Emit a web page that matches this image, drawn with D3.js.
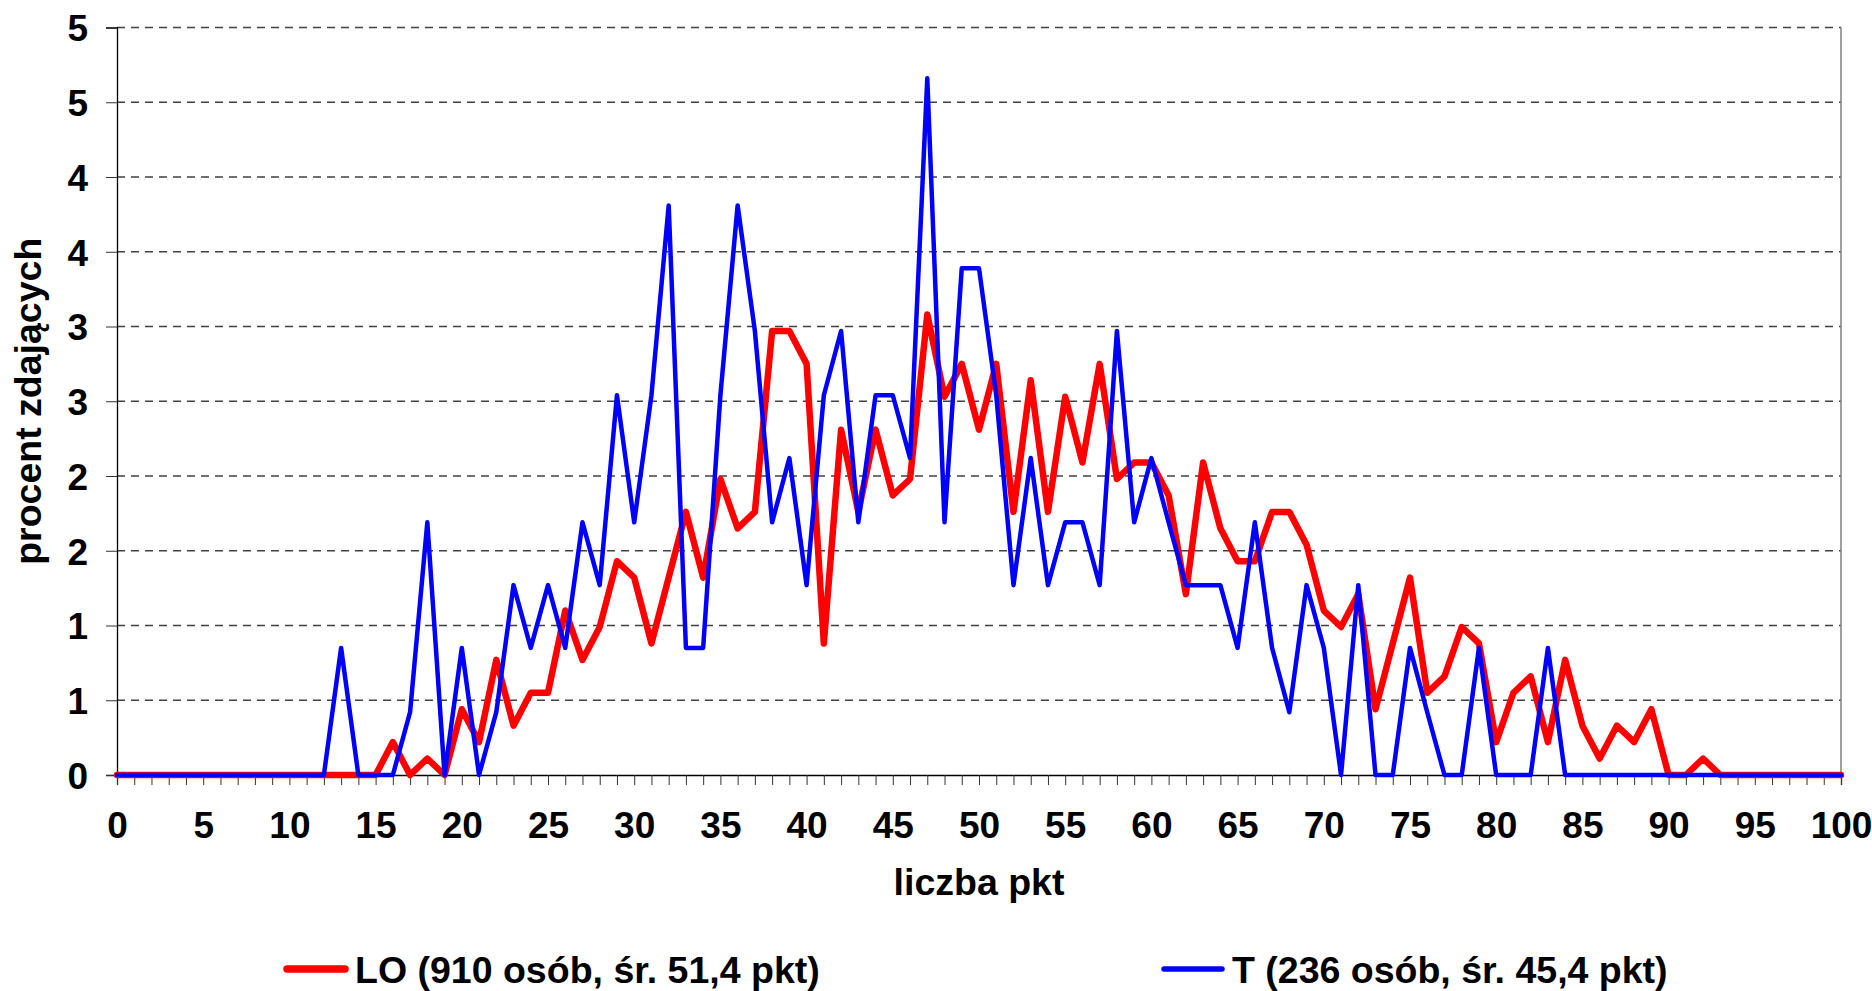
<!DOCTYPE html>
<html>
<head>
<meta charset="utf-8">
<script src="https://cdn.jsdelivr.net/npm/d3@7"></script>
<style>
  body { margin: 0; background: #fff; }
  text { font-family: "Liberation Sans", Arial, sans-serif; font-weight: bold; fill: #000; }
</style>
</head>
<body>
<svg id="chart" width="1872" height="991"></svg>
<script>
// points (liczba pkt), 0..100
var points = [0,1,2,3,4,5,6,7,8,9,10,11,12,13,14,15,16,17,18,19,20,
  21,22,23,24,25,26,27,28,29,30,31,32,33,34,35,36,37,38,39,40,
  41,42,43,44,45,46,47,48,49,50,51,52,53,54,55,56,57,58,59,60,
  61,62,63,64,65,66,67,68,69,70,71,72,73,74,75,76,77,78,79,80,
  81,82,83,84,85,86,87,88,89,90,91,92,93,94,95,96,97,98,99,100];

// percent of students, LO (910 osób)
var valuesLO = [0,0,0,0,0,0,0,0,0,0,0,0,0,0,0,0,
  0.22,0,0.11,0,0.44,0.22,0.77,0.33,0.55,0.55,
  1.10,0.77,0.99,1.43,1.32,0.88,1.32,1.76,1.32,1.98,
  1.65,1.76,2.97,2.97,2.75,0.88,2.31,1.76,2.31,1.87,
  1.98,3.08,2.53,2.75,2.31,2.75,1.76,2.64,1.76,2.53,
  2.09,2.75,1.98,2.09,2.09,1.87,1.21,2.09,1.65,1.43,
  1.43,1.76,1.76,1.54,1.10,0.99,1.21,0.44,0.88,1.32,
  0.55,0.66,0.99,0.88,0.22,0.55,0.66,0.22,0.77,0.33,
  0.11,0.33,0.22,0.44,0,0,0.11,
  0,0,0,0,0,0,0,0];

// percent of students, T (236 osób)
var valuesT = [0,0,0,0,0,0,0,0,0,0,0,0,0,
  0.85,0,0,0,0.42,1.69,0,0.85,0,0.42,
  1.27,0.85,1.27,0.85,1.69,1.27,2.54,1.69,2.54,3.81,
  0.85,0.85,2.54,3.81,2.97,1.69,2.12,1.27,2.54,2.97,
  1.69,2.54,2.54,2.12,4.66,1.69,3.39,3.39,2.54,1.27,
  2.12,1.27,1.69,1.69,1.27,2.97,1.69,2.12,1.69,1.27,
  1.27,1.27,0.85,1.69,0.85,0.42,1.27,0.85,0,1.27,
  0,0,0.85,0.42,0,0,0.85,0,0,0,0.85,
  0,0,0,0,0,0,0,0,0,0,0,0,0,0,0,0,0];

var yTicks = [0,0.5,1,1.5,2,2.5,3,3.5,4,4.5,5];
var xTickLabels = [0,5,10,15,20,25,30,35,40,45,50,55,60,65,70,75,80,85,90,95,100];

var series = [
  { name: "LO (910 osób, śr. 51,4 pkt)", values: valuesLO, color: "#ff0000", width: 6.5, legendX: 287 },
  { name: "T (236 osób, śr. 45,4 pkt)", values: valuesT, color: "#0000ff", width: 4.5, legendX: 1164 }
];

var svg = d3.select("#chart");
// plot area (note: "top" is a reserved window property, so use plotTop)
var plotLeft = 117, plotRight = 1841, plotTop = 27.5, plotBottom = 775;

var x = d3.scaleLinear().domain([0, 100]).range([plotLeft, plotRight]);
var y = d3.scaleLinear().domain([0, 5]).range([plotBottom, plotTop]);

// dashed gridlines
svg.append("g")
  .selectAll("line")
  .data(yTicks.filter(d => d > 0))
  .join("line")
  .attr("x1", plotLeft).attr("x2", plotRight)
  .attr("y1", d => y(d)).attr("y2", d => y(d))
  .attr("stroke", "#404040")
  .attr("stroke-width", 1.3)
  .attr("stroke-dasharray", "8,6");

// plot area border (right side, grey)
svg.append("line")
  .attr("x1", plotRight).attr("x2", plotRight)
  .attr("y1", plotTop).attr("y2", plotBottom)
  .attr("stroke", "#808080")
  .attr("stroke-width", 1.5);

// y axis
var yAxis = svg.append("g")
  .attr("transform", "translate(" + plotLeft + ",0)")
  .call(d3.axisLeft(y).tickValues(yTicks).tickSize(11).tickPadding(18)
    .tickFormat(d => Math.round(d)));
yAxis.select(".domain").attr("stroke", "#000").attr("stroke-width", 1.3);
yAxis.selectAll(".tick line").attr("stroke", "#333");
yAxis.selectAll(".tick text")
  .attr("font-size", 37)
  .attr("font-family", null)
  .attr("dy", "0.36em");

// x axis, tick every point, label every 5
var xAxis = svg.append("g")
  .attr("transform", "translate(0," + plotBottom + ")")
  .call(d3.axisBottom(x).tickValues(points).tickSize(10).tickPadding(0)
    .tickFormat(d => xTickLabels.indexOf(d) >= 0 ? d : ""));
xAxis.select(".domain").attr("stroke", "#000").attr("stroke-width", 1.3);
xAxis.selectAll(".tick line").attr("stroke", "#333");
xAxis.selectAll(".tick text")
  .attr("font-size", 37)
  .attr("font-family", null)
  .attr("y", 63)
  .attr("dy", 0);

// series lines
var line = d3.line()
  .x((d, i) => x(points[i]))
  .y(d => y(d));

svg.append("g")
  .selectAll("path")
  .data(series)
  .join("path")
  .attr("d", d => line(d.values))
  .attr("fill", "none")
  .attr("stroke", d => d.color)
  .attr("stroke-width", d => d.width)
  .attr("stroke-linejoin", "round")
  .attr("stroke-linecap", "round");

// axis titles
svg.append("text")
  .attr("x", (plotLeft + plotRight) / 2)
  .attr("y", 895)
  .attr("text-anchor", "middle")
  .attr("font-size", 37.5)
  .text("liczba pkt");

svg.append("text")
  .attr("transform", "translate(41," + ((plotTop + plotBottom) / 2) + ") rotate(-90)")
  .attr("text-anchor", "middle")
  .attr("font-size", 37.5)
  .text("procent zdających");

// legend
var legend = svg.append("g")
  .selectAll("g")
  .data(series)
  .join("g")
  .attr("transform", d => "translate(" + d.legendX + ",969)");

legend.append("line")
  .attr("x1", 0).attr("x2", 58)
  .attr("stroke", d => d.color)
  .attr("stroke-width", d => d.width + 1)
  .attr("stroke-linecap", "round");

legend.append("text")
  .attr("x", 68)
  .attr("y", 13.5)
  .attr("font-size", 37.5)
  .text(d => d.name);
</script>
</body>
</html>
